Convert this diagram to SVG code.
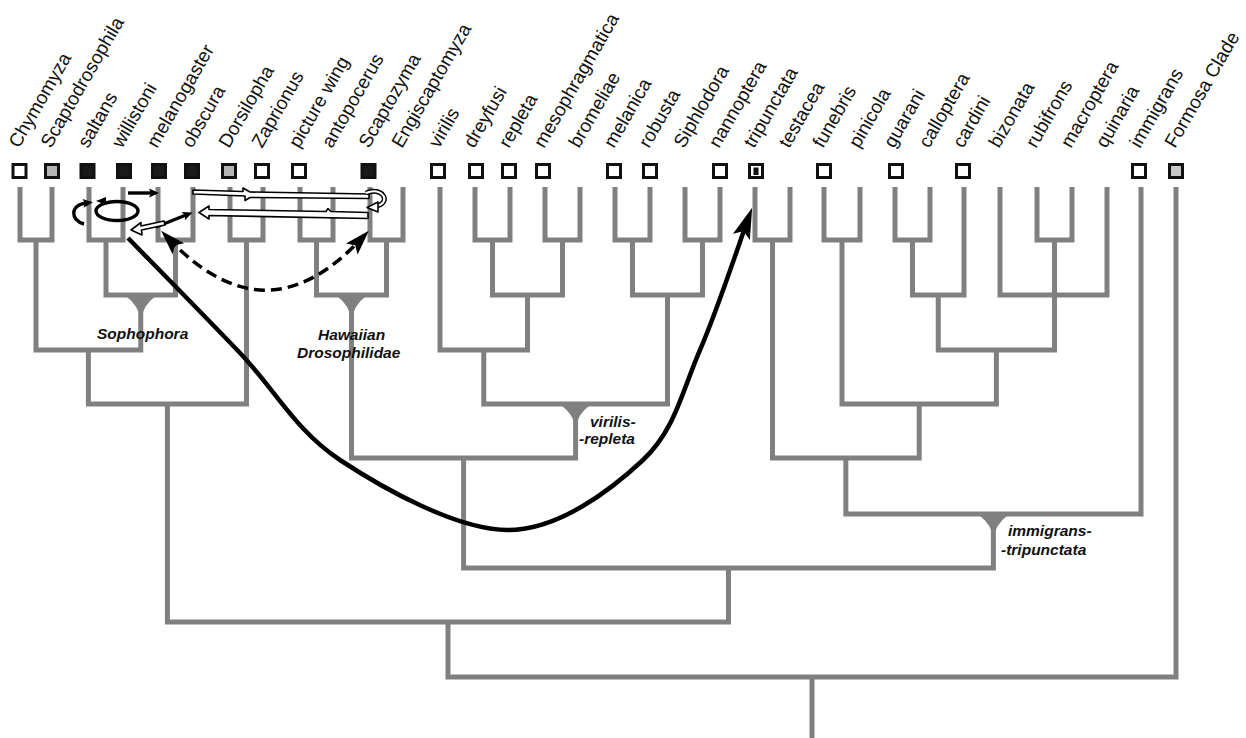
<svg xmlns="http://www.w3.org/2000/svg" width="1246" height="738" viewBox="0 0 1246 738">
<style>
.lbl{font-family:"Liberation Sans",Arial,sans-serif;font-size:19px;fill:#111}
.clade{font-family:"Liberation Sans",Arial,sans-serif;font-size:15.5px;font-weight:bold;font-style:italic;fill:#111}
.box{stroke:#111;stroke-width:3}
.w{fill:#fff}.g{fill:#b4b4b4}.k{fill:#1a1a1a}.g2{fill:#c8c8c8}
.tree path{fill:none;stroke:#808080;stroke-width:5;stroke-linejoin:miter}
.tri{fill:#808080}
.blk{fill:none;stroke:#000;stroke-width:4.5}
.dash{fill:none;stroke:#000;stroke-width:3.5;stroke-dasharray:11 6}
.sm{fill:none;stroke:#000;stroke-width:3.4}
.hol{fill:#fff;stroke:#000;stroke-width:1.6;stroke-linejoin:round}
</style>
<defs>
<marker id="ah" viewBox="0 0 40 24" refX="22" refY="12" markerWidth="40" markerHeight="24" orient="auto" markerUnits="userSpaceOnUse"><path d="M34,12 L3,3 L9,12 L3,21 Z" fill="#000"/></marker>
<marker id="ahd" viewBox="0 0 30 20" refX="18" refY="10" markerWidth="30" markerHeight="20" orient="auto-start-reverse" markerUnits="userSpaceOnUse"><path d="M28,10 L3,2 L8,10 L3,18 Z" fill="#000"/></marker>
<marker id="ahs" viewBox="0 0 12 10" refX="4" refY="5" markerWidth="12" markerHeight="10" orient="auto" markerUnits="userSpaceOnUse"><path d="M11,5 L1,0.5 L3,5 L1,9.5 Z" fill="#000"/></marker>
</defs>
<rect width="1246" height="738" fill="#fff"/>

<g id="connectors" class="tree">
<path d="M20,187 V240 H52 V187"/>
<path d="M89,187 V240 H123 V187"/>
<path d="M158,187 V240 H193 V187"/>
<path d="M106,240 V295 H175.5 V240"/>
<path d="M36,240 V350 H140.75 V295"/>
<path d="M230,187 V240 H263 V187"/>
<path d="M88.4,350 V404 H246.5 V240"/>
<path d="M300,187 V240 H333 V187"/>
<path d="M370,187 V240 H403 V187"/>
<path d="M316.5,240 V295 H386.5 V240"/>
<path d="M475,187 V240 H510 V187"/>
<path d="M545,187 V240 H580 V187"/>
<path d="M492.5,240 V295 H562.5 V240"/>
<path d="M440,187 V350 H527.5 V295"/>
<path d="M615,187 V240 H650 V187"/>
<path d="M685,187 V240 H720 V187"/>
<path d="M632.5,240 V295 H702.5 V240"/>
<path d="M483.75,350 V404 H667.5 V295"/>
<path d="M351.5,295 V458 H575.6 V404"/>
<path d="M755,187 V240 H790 V187"/>
<path d="M824,187 V240 H860 V187"/>
<path d="M895,187 V240 H930 V187"/>
<path d="M912.5,240 V295 H964 V187"/>
<path d="M1037,187 V240 H1072 V187"/>
<path d="M1000,187 V295 H1107 V187"/>
<path d="M1054.5,240 V295"/>
<path d="M938.25,295 V350 H1054.5 V295"/>
<path d="M842,240 V404 H996.4 V350"/>
<path d="M772.5,240 V458 H919.2 V404"/>
<path d="M845.85,458 V514 H1141 V187"/>
<path d="M463.6,458 V568 H993.4 V514"/>
<path d="M167.4,404 V622 H728.5 V568"/>
<path d="M448,622 V677 H1176 V187"/>
<path d="M812,677 V738"/>
</g>

<g id="clade-markers">
<path class="tri" d="M127,297 Q138,305 140.75,320 Q143.5,305 154.5,297 Z"/>
<path class="tri" d="M338,297 Q349,305 351.5,320 Q354,305 365,297 Z"/>
<path class="tri" d="M562,406 Q573,414 575.6,427 Q578,414 589,406 Z"/>
<path class="tri" d="M980,516 Q991,524 993.4,538 Q996,524 1007,516 Z"/>
</g>

<g id="clade-labels">
<text class="clade" x="97" y="339">Sophophora</text>
<text class="clade" x="318" y="340">Hawaiian</text>
<text class="clade" x="297" y="358">Drosophilidae</text>
<text class="clade" x="590" y="427">virilis-</text>
<text class="clade" x="579" y="444">-repleta</text>
<text class="clade" x="1008" y="536">immigrans-</text>
<text class="clade" x="1001" y="555">-tripunctata</text>
</g>

<g id="leaves">
<g id="leaf-chymomyza"><rect class="box w" x="13" y="164.5" width="13" height="13"/><text class="lbl" transform="translate(19,149) rotate(-60)">Chymomyza</text></g>
<g id="leaf-scaptodrosophila"><rect class="box g" x="45.5" y="164.5" width="13" height="13"/><text class="lbl" transform="translate(51,149) rotate(-60)">Scaptodrosophila</text></g>
<g id="leaf-saltans"><rect class="box k" x="81" y="164.5" width="13" height="13"/><text class="lbl" transform="translate(88,149) rotate(-60)">saltans</text></g>
<g id="leaf-willistoni"><rect class="box k" x="117.5" y="164.5" width="13" height="13"/><text class="lbl" transform="translate(122,149) rotate(-60)">willistoni</text></g>
<g id="leaf-melanogaster"><rect class="box k" x="152.5" y="164.5" width="13" height="13"/><text class="lbl" transform="translate(157,149) rotate(-60)">melanogaster</text></g>
<g id="leaf-obscura"><rect class="box k" x="185.5" y="164.5" width="13" height="13"/><text class="lbl" transform="translate(192,149) rotate(-60)">obscura</text></g>
<g id="leaf-dorsilopha"><rect class="box g" x="222.5" y="164.5" width="13" height="13"/><text class="lbl" transform="translate(229,149) rotate(-60)">Dorsilopha</text></g>
<g id="leaf-zaprionus"><rect class="box w" x="255.5" y="164.5" width="13" height="13"/><text class="lbl" transform="translate(262,149) rotate(-60)">Zaprionus</text></g>
<g id="leaf-picture-wing"><rect class="box w" x="292.5" y="164.5" width="13" height="13"/><text class="lbl" transform="translate(299,149) rotate(-60)">picture wing</text></g>
<g id="leaf-antopocerus"><text class="lbl" transform="translate(332,149) rotate(-60)">antopocerus</text></g>
<g id="leaf-scaptozyma"><rect class="box k" x="362" y="164.5" width="13" height="13"/><text class="lbl" transform="translate(369,149) rotate(-60)">Scaptozyma</text></g>
<g id="leaf-engiscaptomyza"><text class="lbl" transform="translate(402,149) rotate(-60)">Engiscaptomyza</text></g>
<g id="leaf-virilis"><rect class="box w" x="431.5" y="164.5" width="13" height="13"/><text class="lbl" transform="translate(439,149) rotate(-60)">virilis</text></g>
<g id="leaf-dreyfusi"><rect class="box w" x="469.5" y="164.5" width="13" height="13"/><text class="lbl" transform="translate(474,149) rotate(-60)">dreyfusi</text></g>
<g id="leaf-repleta"><rect class="box w" x="502.5" y="164.5" width="13" height="13"/><text class="lbl" transform="translate(509,149) rotate(-60)">repleta</text></g>
<g id="leaf-mesophragmatica"><rect class="box w" x="536.5" y="164.5" width="13" height="13"/><text class="lbl" transform="translate(544,149) rotate(-60)">mesophragmatica</text></g>
<g id="leaf-bromeliae"><text class="lbl" transform="translate(579,149) rotate(-60)">bromeliae</text></g>
<g id="leaf-melanica"><rect class="box w" x="607.5" y="164.5" width="13" height="13"/><text class="lbl" transform="translate(614,149) rotate(-60)">melanica</text></g>
<g id="leaf-robusta"><rect class="box w" x="643.5" y="164.5" width="13" height="13"/><text class="lbl" transform="translate(649,149) rotate(-60)">robusta</text></g>
<g id="leaf-siphlodora"><text class="lbl" transform="translate(684,149) rotate(-60)">Siphlodora</text></g>
<g id="leaf-nannoptera"><rect class="box w" x="713.5" y="164.5" width="13" height="13"/><text class="lbl" transform="translate(719,149) rotate(-60)">nannoptera</text></g>
<g id="leaf-tripunctata"><rect class="box w" x="749.5" y="164.5" width="13" height="13"/><rect x="753.5" y="167.5" width="5" height="7.5" fill="#111"/><text class="lbl" transform="translate(754,149) rotate(-60)">tripunctata</text></g>
<g id="leaf-testacea"><text class="lbl" transform="translate(789,149) rotate(-60)">testacea</text></g>
<g id="leaf-funebris"><rect class="box w" x="817.5" y="164.5" width="13" height="13"/><text class="lbl" transform="translate(823,149) rotate(-60)">funebris</text></g>
<g id="leaf-pinicola"><text class="lbl" transform="translate(859,149) rotate(-60)">pinicola</text></g>
<g id="leaf-guarani"><rect class="box w" x="889.5" y="164.5" width="13" height="13"/><text class="lbl" transform="translate(894,149) rotate(-60)">guarani</text></g>
<g id="leaf-calloptera"><text class="lbl" transform="translate(929,149) rotate(-60)">calloptera</text></g>
<g id="leaf-cardini"><rect class="box w" x="956.5" y="164.5" width="13" height="13"/><text class="lbl" transform="translate(963,149) rotate(-60)">cardini</text></g>
<g id="leaf-bizonata"><text class="lbl" transform="translate(999,149) rotate(-60)">bizonata</text></g>
<g id="leaf-rubifrons"><text class="lbl" transform="translate(1036,149) rotate(-60)">rubifrons</text></g>
<g id="leaf-macroptera"><text class="lbl" transform="translate(1071,149) rotate(-60)">macroptera</text></g>
<g id="leaf-quinaria"><text class="lbl" transform="translate(1106,149) rotate(-60)">quinaria</text></g>
<g id="leaf-immigrans"><rect class="box w" x="1132.5" y="164.5" width="13" height="13"/><text class="lbl" transform="translate(1140,149) rotate(-60)">immigrans</text></g>
<g id="leaf-formosa"><rect class="box g2" x="1169.5" y="164.5" width="13" height="13"/><text class="lbl" transform="translate(1175,149) rotate(-60)">Formosa Clade</text></g>
</g>

<g id="transfer-arrows">
<path class="blk" marker-end="url(#ah)" d="M128,238 C146.7,257.2 204.7,316 240,353 C275.3,390 295.3,430.5 340,460 C384.7,489.5 457.5,530 508,530 C558.5,530 611,490 643,460 C675,430 681.8,392 700,350 C718.2,308 741,238 748,219"/>
<path class="dash" marker-start="url(#ahd)" marker-end="url(#ahd)" d="M168,238 C232,305 295,310 362,238"/>
<ellipse class="sm" cx="117" cy="211" rx="21" ry="9.5"/>
<path d="M106,197 L96,201 L106,205 Z" fill="#000"/>
<path class="sm" marker-end="url(#ahs)" d="M84,224 C70,220 70,205 86,203"/>
<path class="sm" marker-end="url(#ahs)" d="M128,193 L152,193"/>
<path class="sm" marker-end="url(#ahs)" d="M156,227 L186,215"/>
<polygon class="hol" points="164,221 141,226 141,222.5 131,230 142,235 141.5,230 165,225"/>
<polygon class="hol" points="193,190 243,191.5 243,188 250,192 369,194 369,198.5 250,197.5 245,200.5 245,196 193,194"/>
<path d="M366,193 C382,186 392,202 377,206" fill="none" stroke="#000" stroke-width="5"/>
<path d="M366,193 C382,186 392,202 377,206" fill="none" stroke="#fff" stroke-width="2"/>
<polygon class="hol" points="378,202 367,207.5 378,212"/>
<polygon class="hol" points="368,212.5 331,211.5 328,208.5 326,211.5 209,209.5 209,206 199,212.5 209,219 209,215.5 368,218.5"/>
</g>
</svg>
